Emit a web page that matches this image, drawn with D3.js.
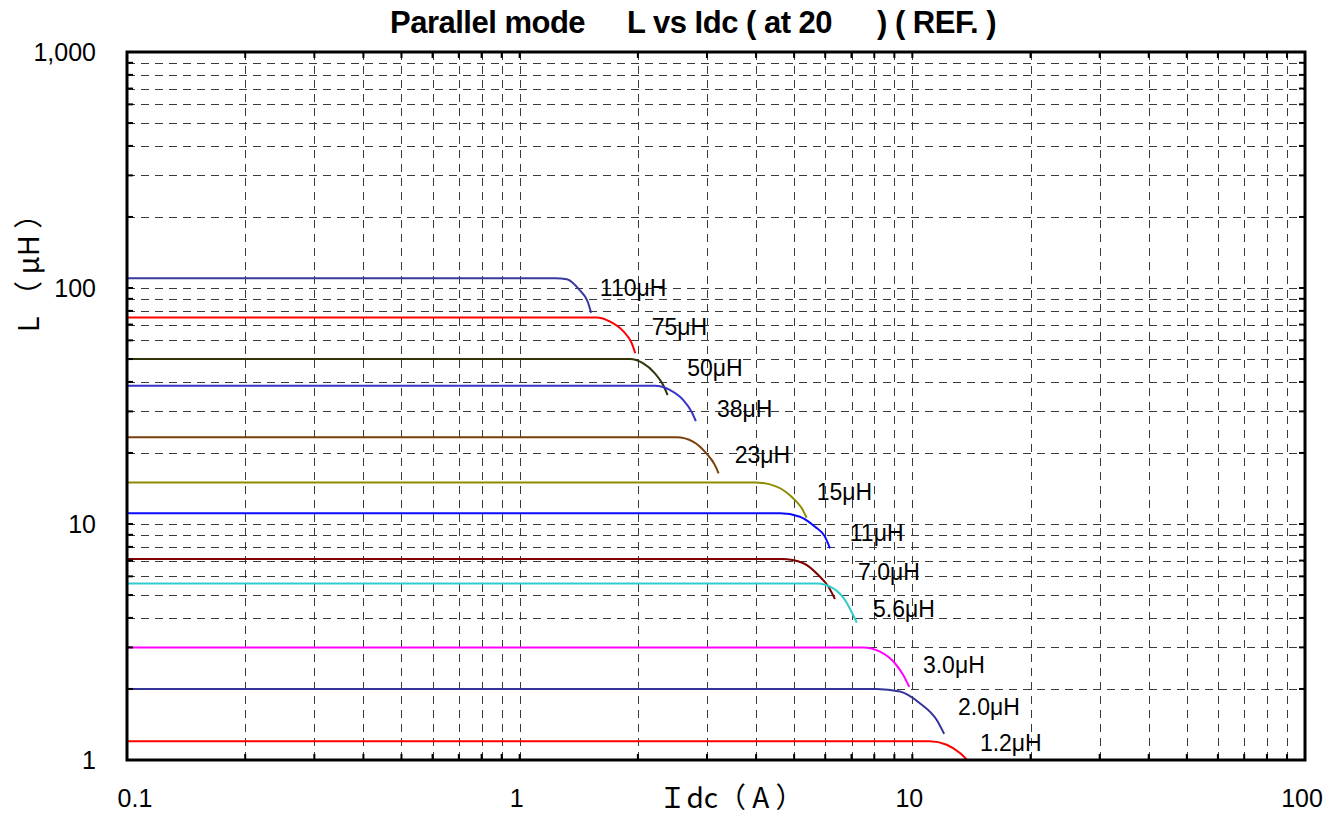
<!DOCTYPE html>
<html>
<head>
<meta charset="utf-8">
<script src="https://cdn.jsdelivr.net/npm/d3@7"></script>
<style>
body { margin: 0; background: #fff; }
svg { display: block; font-family: "Liberation Sans", Arial, sans-serif; }
</style>
</head>
<body>
<script>
// inductance vs dc current, one pair of arrays per part
var i110 = [0.1, 1.23, 1.32, 1.42, 1.49, 1.52],  l110 = [110, 110, 108.9, 98.1, 87.5, 78.6];
var i75  = [0.1, 1.57, 1.70, 1.84, 1.93, 1.97],  l75  = [75, 75, 72.0, 65.3, 58.3, 52.9];
var i50  = [0.1, 1.91, 2.06, 2.21, 2.32, 2.38],  l50  = [50, 50, 48.0, 43.5, 38.8, 35.2];
var i38  = [0.1, 2.21, 2.41, 2.61, 2.74, 2.81],  l38  = [38.5, 38.5, 37.0, 33.5, 29.9, 27.3];
var i23  = [0.1, 2.51, 2.77, 2.99, 3.14, 3.21],  l23  = [23.3, 23.3, 22.3, 19.9, 17.8, 16.4];
var i15  = [0.1, 3.98, 4.51, 4.97, 5.23, 5.38],  l15  = [15, 15, 14.4, 12.85, 11.65, 10.63];
var i11  = [0.1, 4.60, 5.17, 5.65, 5.99, 6.17],  l11  = [11.1, 11.1, 10.74, 9.74, 8.84, 7.89];
var i7   = [0.1, 4.65, 5.28, 5.76, 6.11, 6.35],  l7   = [7.1, 7.1, 6.82, 6.08, 5.43, 4.81];
var i56  = [0.1, 5.71, 6.29, 6.74, 7.00, 7.22],  l56  = [5.6, 5.6, 5.34, 4.76, 4.25, 3.82];
var i3   = [0.1, 7.50, 8.27, 9.03, 9.48, 9.82],  l3   = [3.0, 3.0, 2.88, 2.57, 2.29, 2.04];
var i2   = [0.1, 8.11, 9.30, 10.45, 11.53, 12.05], l2 = [2.0, 2.0, 1.95, 1.74, 1.48, 1.29];
var i12  = [0.1, 11.09, 12.23, 13.22, 13.88],    l12  = [1.2, 1.2, 1.16, 1.07, 0.99];

var seriesNames = ["110μH", "75μH", "50μH", "38μH", "23μH", "15μH", "11μH", "7.0μH", "5.6μH", "3.0μH", "2.0μH", "1.2μH"];
var seriesIdc = [i110, i75, i50, i38, i23, i15, i11, i7, i56, i3, i2, i12];
var seriesL   = [l110, l75, l50, l38, l23, l15, l11, l7, l56, l3, l2, l12];
var seriesColors = ["#3a3a9c", "#ff0000", "#33330a", "#3535c8", "#7a3f0a", "#8c8c00", "#0a0aff", "#800000", "#33cccc", "#ff00ff", "#333399", "#ff0000"];

// where each label sits (left edge, middle), in data units
var labelIdc = [1.60, 2.17, 2.67, 3.18, 3.53, 5.71, 6.93, 7.27, 7.94, 10.64, 13.07, 14.86];
var labelL   = [100, 68.4, 45.8, 30.7, 19.6, 13.66, 9.16, 6.26, 4.36, 2.53, 1.68, 1.18];

var xTicks = [0.1, 1, 10, 100], xTickLabels = ["0.1", "1", "10", "100"];
var yTicks = [1, 10, 100, 1000], yTickLabels = ["1", "10", "100", "1,000"];

var width = 1342, height = 819;
var pLeft = 127, pRight = 1305, pTop = 52, pBottom = 760;

var svg = d3.select("body").append("svg")
    .attr("width", width)
    .attr("height", height);

var x = d3.scaleLog().domain([0.1, 100]).range([pLeft, pRight]);
var y = d3.scaleLog().domain([1, 1000]).range([pBottom, pTop]);

// every 1..9 step in each decade, minus the frame edges
var xGrid = x.ticks().filter(function(d){ return d > 0.1 && d < 100; });
var yGrid = y.ticks().filter(function(d){ return d > 1 && d < 1000; });

var grid = svg.append("g").attr("class", "grid")
    .attr("stroke", "#3a3a3a")
    .attr("stroke-width", 1)
    .attr("stroke-dasharray", "8,6");

grid.selectAll(".vline")
    .data(xGrid)
    .enter()
    .append("line")
    .attr("x1", function(d){ return Math.round(x(d)) + 0.5; })
    .attr("x2", function(d){ return Math.round(x(d)) + 0.5; })
    .attr("y1", pTop)
    .attr("y2", pBottom);

grid.selectAll(".hline")
    .data(yGrid)
    .enter()
    .append("line")
    .attr("y1", function(d){ return Math.round(y(d)) + 0.5; })
    .attr("y2", function(d){ return Math.round(y(d)) + 0.5; })
    .attr("x1", pLeft)
    .attr("x2", pRight);

svg.append("clipPath").attr("id", "plotclip")
    .append("rect")
    .attr("x", pLeft).attr("y", pTop)
    .attr("width", pRight - pLeft).attr("height", pBottom - pTop);

var line = d3.line()
    .x(function(d){ return x(d[0]); })
    .y(function(d){ return y(d[1]); })
    .curve(d3.curveMonotoneX);

svg.append("g").attr("clip-path", "url(#plotclip)")
    .selectAll(".curve")
    .data(seriesNames)
    .enter()
    .append("path")
    .attr("class", "curve")
    .attr("fill", "none")
    .attr("stroke", function(d, i){ return seriesColors[i]; })
    .attr("stroke-width", 2)
    .attr("d", function(d, i){
        return line(d3.zip(seriesIdc[i], seriesL[i]));
    });

// tick marks on all four sides, pointing in
var ticks = svg.append("g").attr("stroke", "#000").attr("stroke-width", 2);
ticks.selectAll(".bt").data(xGrid).enter().append("line")
    .attr("x1", function(d){ return x(d); }).attr("x2", function(d){ return x(d); })
    .attr("y1", pBottom).attr("y2", pBottom - 6);
ticks.selectAll(".tt").data(xGrid).enter().append("line")
    .attr("x1", function(d){ return x(d); }).attr("x2", function(d){ return x(d); })
    .attr("y1", pTop).attr("y2", pTop + 6);
ticks.selectAll(".lt").data(yGrid).enter().append("line")
    .attr("y1", function(d){ return y(d); }).attr("y2", function(d){ return y(d); })
    .attr("x1", pLeft).attr("x2", pLeft + 6);
ticks.selectAll(".rt").data(yGrid).enter().append("line")
    .attr("y1", function(d){ return y(d); }).attr("y2", function(d){ return y(d); })
    .attr("x1", pRight).attr("x2", pRight - 6);

// plot frame
svg.append("rect")
    .attr("x", pLeft).attr("y", pTop)
    .attr("width", pRight - pLeft).attr("height", pBottom - pTop)
    .attr("fill", "none")
    .attr("stroke", "#000")
    .attr("stroke-width", 3);

// curve labels
svg.selectAll(".lab")
    .data(seriesNames)
    .enter()
    .append("text")
    .attr("class", "lab")
    .attr("x", function(d, i){ return x(labelIdc[i]); })
    .attr("y", function(d, i){ return y(labelL[i]); })
    .attr("dy", "0.35em")
    .attr("font-size", 23)
    .attr("fill", "#000")
    .text(function(d){ return d; });

// axis numbers
svg.selectAll(".xl")
    .data(xTicks)
    .enter()
    .append("text")
    .attr("x", function(d){ return x(d) + (d === 0.1 ? 8 : -3); })
    .attr("y", 807)
    .attr("text-anchor", "middle")
    .attr("font-size", 25)
    .text(function(d, i){ return xTickLabels[i]; });

svg.selectAll(".yl")
    .data(yTicks)
    .enter()
    .append("text")
    .attr("x", 96)
    .attr("y", function(d){ return y(d); })
    .attr("dy", "0.35em")
    .attr("text-anchor", "end")
    .attr("font-size", 25)
    .text(function(d, i){ return yTickLabels[i]; });

// titles
var title = svg.append("text")
    .attr("y", 33)
    .attr("font-size", 31)
    .attr("font-weight", "bold")
    .attr("letter-spacing", "-0.5px");
title.append("tspan").attr("x", 390).text("Parallel mode");
title.append("tspan").attr("x", 627).text("L vs Idc ( at 20");
title.append("tspan").attr("x", 877).text(") ( REF. )");

svg.append("text")
    .attr("x", 731)
    .attr("y", 808)
    .attr("text-anchor", "middle")
    .attr("font-size", 28)
    .attr("font-family", "'Noto Sans CJK JP', sans-serif")
    .text("Ｉdc（ A ）");

svg.append("text")
    .attr("transform", "translate(39,266) rotate(-90)")
    .attr("text-anchor", "middle")
    .attr("font-size", 29)
    .attr("font-family", "'Noto Sans CJK JP', sans-serif")
    .text("L （ μH ）");
</script>
</body>
</html>
